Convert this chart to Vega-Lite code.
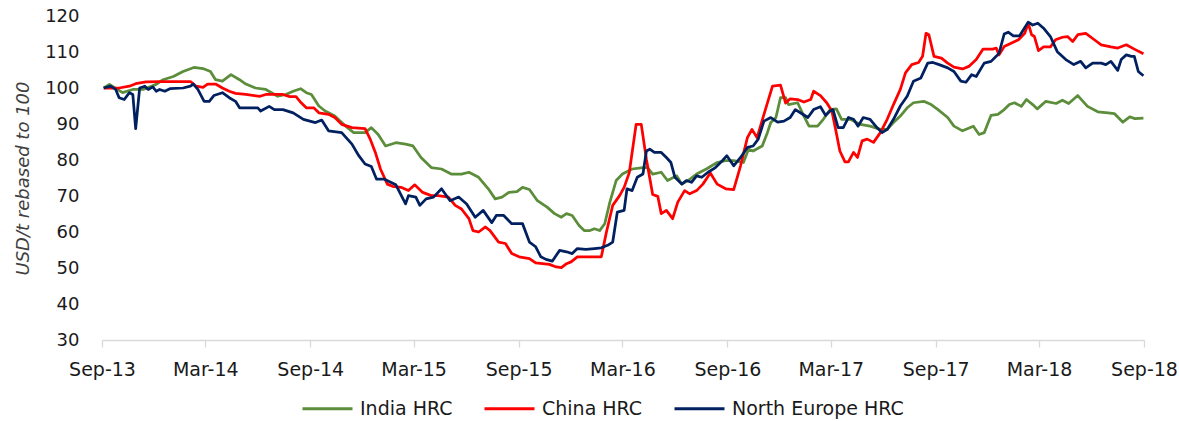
{
  "$schema": "https://vega.github.io/schema/vega-lite/v6.json",
  "width": 1042,
  "height": 324,
  "autosize": {"type": "none"},
  "padding": {"left": 102, "top": 16, "right": 35, "bottom": 81},
  "background": "white",
  "config": {"view": {"stroke": null}, "font": "DejaVu Sans"},
  "data": {"values": [
    {"date":"2013-09-04","series":"India HRC","value":100},
    {"date":"2013-09-14","series":"India HRC","value":101},
    {"date":"2013-10-07","series":"India HRC","value":98.7},
    {"date":"2013-10-25","series":"India HRC","value":99.6},
    {"date":"2013-11-12","series":"India HRC","value":99.6},
    {"date":"2013-12-05","series":"India HRC","value":101},
    {"date":"2013-12-17","series":"India HRC","value":102.3},
    {"date":"2014-01-04","series":"India HRC","value":103.2},
    {"date":"2014-01-21","series":"India HRC","value":104.6},
    {"date":"2014-02-09","series":"India HRC","value":105.7},
    {"date":"2014-02-25","series":"India HRC","value":105.4},
    {"date":"2014-03-10","series":"India HRC","value":104.6},
    {"date":"2014-03-19","series":"India HRC","value":102.3},
    {"date":"2014-03-31","series":"India HRC","value":101.9},
    {"date":"2014-04-15","series":"India HRC","value":103.7},
    {"date":"2014-04-30","series":"India HRC","value":102.3},
    {"date":"2014-05-11","series":"India HRC","value":101.1},
    {"date":"2014-05-28","series":"India HRC","value":100.0},
    {"date":"2014-06-15","series":"India HRC","value":99.6},
    {"date":"2014-07-06","series":"India HRC","value":97.7},
    {"date":"2014-07-20","series":"India HRC","value":98.2},
    {"date":"2014-08-02","series":"India HRC","value":99.1},
    {"date":"2014-08-15","series":"India HRC","value":99.8},
    {"date":"2014-08-25","series":"India HRC","value":98.7},
    {"date":"2014-09-03","series":"India HRC","value":98.2},
    {"date":"2014-09-16","series":"India HRC","value":95.0},
    {"date":"2014-09-27","series":"India HRC","value":93.6},
    {"date":"2014-10-14","series":"India HRC","value":92.2},
    {"date":"2014-11-02","series":"India HRC","value":89.4},
    {"date":"2014-11-16","series":"India HRC","value":87.6},
    {"date":"2014-12-06","series":"India HRC","value":87.6},
    {"date":"2014-12-17","series":"India HRC","value":89.0},
    {"date":"2014-12-29","series":"India HRC","value":87.1},
    {"date":"2015-01-11","series":"India HRC","value":83.9},
    {"date":"2015-01-29","series":"India HRC","value":84.8},
    {"date":"2015-02-15","series":"India HRC","value":84.4},
    {"date":"2015-02-28","series":"India HRC","value":83.9},
    {"date":"2015-03-14","series":"India HRC","value":80.7},
    {"date":"2015-04-01","series":"India HRC","value":77.9},
    {"date":"2015-04-19","series":"India HRC","value":77.5},
    {"date":"2015-05-06","series":"India HRC","value":76.1},
    {"date":"2015-05-24","series":"India HRC","value":76.1},
    {"date":"2015-06-06","series":"India HRC","value":76.6},
    {"date":"2015-06-23","series":"India HRC","value":75.2},
    {"date":"2015-07-10","series":"India HRC","value":72.0},
    {"date":"2015-07-22","series":"India HRC","value":69.2},
    {"date":"2015-08-03","series":"India HRC","value":69.7},
    {"date":"2015-08-15","series":"India HRC","value":71.0},
    {"date":"2015-08-29","series":"India HRC","value":71.2},
    {"date":"2015-09-08","series":"India HRC","value":72.4},
    {"date":"2015-09-20","series":"India HRC","value":71.8},
    {"date":"2015-10-04","series":"India HRC","value":68.7},
    {"date":"2015-10-21","series":"India HRC","value":66.9},
    {"date":"2015-11-03","series":"India HRC","value":65.1},
    {"date":"2015-11-15","series":"India HRC","value":64.1},
    {"date":"2015-11-24","series":"India HRC","value":65.1},
    {"date":"2015-12-04","series":"India HRC","value":64.6},
    {"date":"2015-12-16","series":"India HRC","value":61.8},
    {"date":"2015-12-25","series":"India HRC","value":60.4},
    {"date":"2016-01-04","series":"India HRC","value":60.4},
    {"date":"2016-01-12","series":"India HRC","value":60.9},
    {"date":"2016-01-21","series":"India HRC","value":60.4},
    {"date":"2016-01-30","series":"India HRC","value":62.3},
    {"date":"2016-02-08","series":"India HRC","value":68.3},
    {"date":"2016-02-19","series":"India HRC","value":74.3},
    {"date":"2016-03-01","series":"India HRC","value":76.1},
    {"date":"2016-03-18","series":"India HRC","value":77.5},
    {"date":"2016-04-06","series":"India HRC","value":77.9},
    {"date":"2016-04-14","series":"India HRC","value":77.9},
    {"date":"2016-04-23","series":"India HRC","value":76.1},
    {"date":"2016-05-08","series":"India HRC","value":76.6},
    {"date":"2016-05-19","series":"India HRC","value":74.3},
    {"date":"2016-06-04","series":"India HRC","value":75.6},
    {"date":"2016-06-13","series":"India HRC","value":73.3},
    {"date":"2016-06-24","series":"India HRC","value":74.3},
    {"date":"2016-07-09","series":"India HRC","value":76.1},
    {"date":"2016-07-26","series":"India HRC","value":77.5},
    {"date":"2016-08-14","series":"India HRC","value":79.3},
    {"date":"2016-08-29","series":"India HRC","value":79.8},
    {"date":"2016-09-12","series":"India HRC","value":79.8},
    {"date":"2016-09-29","series":"India HRC","value":79.3},
    {"date":"2016-10-08","series":"India HRC","value":83.0},
    {"date":"2016-10-16","series":"India HRC","value":82.5},
    {"date":"2016-11-01","series":"India HRC","value":83.9},
    {"date":"2016-11-10","series":"India HRC","value":87.6},
    {"date":"2016-11-16","series":"India HRC","value":90.4},
    {"date":"2016-11-25","series":"India HRC","value":91.8},
    {"date":"2016-12-03","series":"India HRC","value":97.3},
    {"date":"2016-12-12","series":"India HRC","value":97.3},
    {"date":"2016-12-17","series":"India HRC","value":95.4},
    {"date":"2017-01-02","series":"India HRC","value":95.9},
    {"date":"2017-01-13","series":"India HRC","value":92.2},
    {"date":"2017-01-22","series":"India HRC","value":89.4},
    {"date":"2017-02-06","series":"India HRC","value":89.4},
    {"date":"2017-02-16","series":"India HRC","value":91.3},
    {"date":"2017-02-28","series":"India HRC","value":94.0},
    {"date":"2017-03-11","series":"India HRC","value":94.2},
    {"date":"2017-03-20","series":"India HRC","value":91.3},
    {"date":"2017-04-04","series":"India HRC","value":91.3},
    {"date":"2017-04-22","series":"India HRC","value":89.9},
    {"date":"2017-05-09","series":"India HRC","value":89.4},
    {"date":"2017-05-27","series":"India HRC","value":88.5},
    {"date":"2017-06-08","series":"India HRC","value":88.5},
    {"date":"2017-06-19","series":"India HRC","value":90.4},
    {"date":"2017-07-01","series":"India HRC","value":92.2},
    {"date":"2017-07-13","series":"India HRC","value":94.5},
    {"date":"2017-07-24","series":"India HRC","value":95.9},
    {"date":"2017-08-11","series":"India HRC","value":96.3},
    {"date":"2017-08-24","series":"India HRC","value":95.4},
    {"date":"2017-09-05","series":"India HRC","value":94.0},
    {"date":"2017-09-22","series":"India HRC","value":91.8},
    {"date":"2017-10-03","series":"India HRC","value":89.4},
    {"date":"2017-10-18","series":"India HRC","value":88.1},
    {"date":"2017-11-06","series":"India HRC","value":89.4},
    {"date":"2017-11-16","series":"India HRC","value":87.1},
    {"date":"2017-11-25","series":"India HRC","value":87.6},
    {"date":"2017-12-07","series":"India HRC","value":92.4},
    {"date":"2017-12-19","series":"India HRC","value":92.7},
    {"date":"2017-12-30","series":"India HRC","value":94.0},
    {"date":"2018-01-08","series":"India HRC","value":95.4},
    {"date":"2018-01-17","series":"India HRC","value":95.9},
    {"date":"2018-01-29","series":"India HRC","value":94.9},
    {"date":"2018-02-07","series":"India HRC","value":96.8},
    {"date":"2018-02-18","series":"India HRC","value":95.4},
    {"date":"2018-02-26","series":"India HRC","value":94.2},
    {"date":"2018-03-13","series":"India HRC","value":96.3},
    {"date":"2018-03-31","series":"India HRC","value":95.7},
    {"date":"2018-04-11","series":"India HRC","value":96.6},
    {"date":"2018-04-22","series":"India HRC","value":95.7},
    {"date":"2018-05-08","series":"India HRC","value":97.9},
    {"date":"2018-05-25","series":"India HRC","value":94.9},
    {"date":"2018-06-12","series":"India HRC","value":93.4},
    {"date":"2018-06-30","series":"India HRC","value":93.1},
    {"date":"2018-07-11","series":"India HRC","value":92.9},
    {"date":"2018-07-26","series":"India HRC","value":90.5},
    {"date":"2018-08-07","series":"India HRC","value":92.0},
    {"date":"2018-08-16","series":"India HRC","value":91.5},
    {"date":"2018-08-31","series":"India HRC","value":91.6},

    {"date":"2013-09-04","series":"China HRC","value":100},
    {"date":"2013-10-01","series":"China HRC","value":100.0},
    {"date":"2013-10-19","series":"China HRC","value":100.5},
    {"date":"2013-10-30","series":"China HRC","value":101.2},
    {"date":"2013-11-17","series":"China HRC","value":101.7},
    {"date":"2013-12-11","series":"China HRC","value":101.8},
    {"date":"2014-02-03","series":"China HRC","value":101.8},
    {"date":"2014-02-13","series":"China HRC","value":100.5},
    {"date":"2014-02-25","series":"China HRC","value":100.2},
    {"date":"2014-03-05","series":"China HRC","value":101.1},
    {"date":"2014-03-19","series":"China HRC","value":101.1},
    {"date":"2014-03-31","series":"China HRC","value":100.0},
    {"date":"2014-04-12","series":"China HRC","value":99.1},
    {"date":"2014-04-23","series":"China HRC","value":98.5},
    {"date":"2014-05-11","series":"China HRC","value":98.2},
    {"date":"2014-06-05","series":"China HRC","value":97.7},
    {"date":"2014-06-15","series":"China HRC","value":98.2},
    {"date":"2014-07-15","series":"China HRC","value":98.2},
    {"date":"2014-07-27","series":"China HRC","value":97.6},
    {"date":"2014-08-07","series":"China HRC","value":97.6},
    {"date":"2014-08-16","series":"China HRC","value":95.9},
    {"date":"2014-08-25","series":"China HRC","value":94.5},
    {"date":"2014-09-07","series":"China HRC","value":94.5},
    {"date":"2014-09-16","series":"China HRC","value":93.1},
    {"date":"2014-10-03","series":"China HRC","value":92.7},
    {"date":"2014-10-14","series":"China HRC","value":91.8},
    {"date":"2014-10-26","series":"China HRC","value":89.9},
    {"date":"2014-11-13","series":"China HRC","value":89.0},
    {"date":"2014-12-06","series":"China HRC","value":88.7},
    {"date":"2014-12-15","series":"China HRC","value":85.8},
    {"date":"2014-12-24","series":"China HRC","value":82.1},
    {"date":"2015-01-02","series":"China HRC","value":77.5},
    {"date":"2015-01-14","series":"China HRC","value":73.3},
    {"date":"2015-01-23","series":"China HRC","value":72.7},
    {"date":"2015-02-07","series":"China HRC","value":72.4},
    {"date":"2015-02-20","series":"China HRC","value":71.5},
    {"date":"2015-03-03","series":"China HRC","value":73.1},
    {"date":"2015-03-17","series":"China HRC","value":71.0},
    {"date":"2015-04-01","series":"China HRC","value":70.1},
    {"date":"2015-04-13","series":"China HRC","value":70.1},
    {"date":"2015-05-01","series":"China HRC","value":69.7},
    {"date":"2015-05-13","series":"China HRC","value":67.4},
    {"date":"2015-05-24","series":"China HRC","value":66.4},
    {"date":"2015-06-06","series":"China HRC","value":63.7},
    {"date":"2015-06-13","series":"China HRC","value":60.4},
    {"date":"2015-06-23","series":"China HRC","value":60.0},
    {"date":"2015-07-05","series":"China HRC","value":61.4},
    {"date":"2015-07-13","series":"China HRC","value":60.4},
    {"date":"2015-07-28","series":"China HRC","value":57.2},
    {"date":"2015-08-09","series":"China HRC","value":56.8},
    {"date":"2015-08-20","series":"China HRC","value":54.0},
    {"date":"2015-09-02","series":"China HRC","value":53.1},
    {"date":"2015-09-20","series":"China HRC","value":52.6},
    {"date":"2015-10-01","series":"China HRC","value":51.4},
    {"date":"2015-10-25","series":"China HRC","value":51.0},
    {"date":"2015-11-06","series":"China HRC","value":50.3},
    {"date":"2015-11-15","series":"China HRC","value":50.1},
    {"date":"2015-11-24","series":"China HRC","value":51.2},
    {"date":"2015-12-02","series":"China HRC","value":51.7},
    {"date":"2015-12-13","series":"China HRC","value":53.1},
    {"date":"2015-12-28","series":"China HRC","value":53.1},
    {"date":"2016-01-24","series":"China HRC","value":53.1},
    {"date":"2016-02-02","series":"China HRC","value":60.0},
    {"date":"2016-02-13","series":"China HRC","value":67.4},
    {"date":"2016-02-25","series":"China HRC","value":70.1},
    {"date":"2016-03-04","series":"China HRC","value":72.4},
    {"date":"2016-03-13","series":"China HRC","value":76.5},
    {"date":"2016-03-18","series":"China HRC","value":82.1},
    {"date":"2016-03-25","series":"China HRC","value":89.9},
    {"date":"2016-04-03","series":"China HRC","value":89.9},
    {"date":"2016-04-12","series":"China HRC","value":80.2},
    {"date":"2016-04-23","series":"China HRC","value":70.4},
    {"date":"2016-05-02","series":"China HRC","value":69.9},
    {"date":"2016-05-08","series":"China HRC","value":65.1},
    {"date":"2016-05-17","series":"China HRC","value":66.0},
    {"date":"2016-05-28","series":"China HRC","value":63.7},
    {"date":"2016-06-06","series":"China HRC","value":68.3},
    {"date":"2016-06-18","series":"China HRC","value":71.5},
    {"date":"2016-06-27","series":"China HRC","value":70.6},
    {"date":"2016-07-09","series":"China HRC","value":71.5},
    {"date":"2016-07-20","series":"China HRC","value":73.3},
    {"date":"2016-08-02","series":"China HRC","value":76.4},
    {"date":"2016-08-14","series":"China HRC","value":73.3},
    {"date":"2016-08-29","series":"China HRC","value":72.0},
    {"date":"2016-09-12","series":"China HRC","value":71.8},
    {"date":"2016-09-24","series":"China HRC","value":78.4},
    {"date":"2016-10-06","series":"China HRC","value":86.2},
    {"date":"2016-10-14","series":"China HRC","value":88.5},
    {"date":"2016-10-23","series":"China HRC","value":86.2},
    {"date":"2016-11-04","series":"China HRC","value":92.7},
    {"date":"2016-11-19","series":"China HRC","value":100.5},
    {"date":"2016-12-03","series":"China HRC","value":100.8},
    {"date":"2016-12-12","series":"China HRC","value":95.8},
    {"date":"2016-12-20","series":"China HRC","value":97.0},
    {"date":"2017-01-02","series":"China HRC","value":96.8},
    {"date":"2017-01-13","series":"China HRC","value":96.1},
    {"date":"2017-01-25","series":"China HRC","value":96.8},
    {"date":"2017-01-30","series":"China HRC","value":99.1},
    {"date":"2017-02-11","series":"China HRC","value":97.9},
    {"date":"2017-02-22","series":"China HRC","value":95.9},
    {"date":"2017-03-03","series":"China HRC","value":93.6},
    {"date":"2017-03-09","series":"China HRC","value":89.0},
    {"date":"2017-03-17","series":"China HRC","value":82.5},
    {"date":"2017-03-26","series":"China HRC","value":79.5},
    {"date":"2017-04-01","series":"China HRC","value":79.5},
    {"date":"2017-04-10","series":"China HRC","value":82.1},
    {"date":"2017-04-17","series":"China HRC","value":80.7},
    {"date":"2017-04-25","series":"China HRC","value":85.3},
    {"date":"2017-05-04","series":"China HRC","value":85.8},
    {"date":"2017-05-15","series":"China HRC","value":84.9},
    {"date":"2017-05-27","series":"China HRC","value":87.6},
    {"date":"2017-06-08","series":"China HRC","value":91.3},
    {"date":"2017-06-19","series":"China HRC","value":95.4},
    {"date":"2017-07-01","series":"China HRC","value":99.6},
    {"date":"2017-07-10","series":"China HRC","value":104.2},
    {"date":"2017-07-21","series":"China HRC","value":106.5},
    {"date":"2017-08-02","series":"China HRC","value":107.1},
    {"date":"2017-08-09","series":"China HRC","value":108.8},
    {"date":"2017-08-15","series":"China HRC","value":115.2},
    {"date":"2017-08-20","series":"China HRC","value":114.8},
    {"date":"2017-08-29","series":"China HRC","value":108.8},
    {"date":"2017-09-11","series":"China HRC","value":108.3},
    {"date":"2017-09-22","series":"China HRC","value":106.9},
    {"date":"2017-10-03","series":"China HRC","value":105.8},
    {"date":"2017-10-18","series":"China HRC","value":105.3},
    {"date":"2017-10-29","series":"China HRC","value":106.0},
    {"date":"2017-11-11","series":"China HRC","value":107.9},
    {"date":"2017-11-23","series":"China HRC","value":110.8},
    {"date":"2017-12-10","series":"China HRC","value":110.8},
    {"date":"2017-12-16","series":"China HRC","value":111.1},
    {"date":"2017-12-21","series":"China HRC","value":109.2},
    {"date":"2017-12-30","series":"China HRC","value":111.5},
    {"date":"2018-01-24","series":"China HRC","value":113.4},
    {"date":"2018-02-04","series":"China HRC","value":115.2},
    {"date":"2018-02-10","series":"China HRC","value":118.0},
    {"date":"2018-02-16","series":"China HRC","value":114.8},
    {"date":"2018-02-21","series":"China HRC","value":114.3},
    {"date":"2018-02-28","series":"China HRC","value":110.4},
    {"date":"2018-03-09","series":"China HRC","value":111.4},
    {"date":"2018-03-21","series":"China HRC","value":111.4},
    {"date":"2018-03-30","series":"China HRC","value":113.4},
    {"date":"2018-04-11","series":"China HRC","value":114.1},
    {"date":"2018-04-20","series":"China HRC","value":114.3},
    {"date":"2018-04-29","series":"China HRC","value":112.9},
    {"date":"2018-05-08","series":"China HRC","value":114.8},
    {"date":"2018-05-22","series":"China HRC","value":115.2},
    {"date":"2018-06-06","series":"China HRC","value":113.4},
    {"date":"2018-06-18","series":"China HRC","value":112.0},
    {"date":"2018-07-05","series":"China HRC","value":111.4},
    {"date":"2018-07-17","series":"China HRC","value":111.1},
    {"date":"2018-08-01","series":"China HRC","value":112.0},
    {"date":"2018-08-15","series":"China HRC","value":110.8},
    {"date":"2018-08-31","series":"China HRC","value":109.5},

    {"date":"2013-09-04","series":"North Europe HRC","value":100},
    {"date":"2013-09-16","series":"North Europe HRC","value":100.5},
    {"date":"2013-09-25","series":"North Europe HRC","value":99.6},
    {"date":"2013-10-01","series":"North Europe HRC","value":97.3},
    {"date":"2013-10-10","series":"North Europe HRC","value":96.8},
    {"date":"2013-10-19","series":"North Europe HRC","value":98.7},
    {"date":"2013-10-25","series":"North Europe HRC","value":98.2},
    {"date":"2013-10-30","series":"North Europe HRC","value":88.7},
    {"date":"2013-11-06","series":"North Europe HRC","value":100.0},
    {"date":"2013-11-15","series":"North Europe HRC","value":100.5},
    {"date":"2013-11-21","series":"North Europe HRC","value":99.6},
    {"date":"2013-11-29","series":"North Europe HRC","value":100.3},
    {"date":"2013-12-05","series":"North Europe HRC","value":99.1},
    {"date":"2013-12-11","series":"North Europe HRC","value":99.6},
    {"date":"2013-12-20","series":"North Europe HRC","value":99.1},
    {"date":"2013-12-29","series":"North Europe HRC","value":99.8},
    {"date":"2014-01-21","series":"North Europe HRC","value":100.0},
    {"date":"2014-02-03","series":"North Europe HRC","value":100.5},
    {"date":"2014-02-08","series":"North Europe HRC","value":101.1},
    {"date":"2014-02-16","series":"North Europe HRC","value":99.6},
    {"date":"2014-02-27","series":"North Europe HRC","value":96.3},
    {"date":"2014-03-08","series":"North Europe HRC","value":96.3},
    {"date":"2014-03-16","series":"North Europe HRC","value":97.9},
    {"date":"2014-03-31","series":"North Europe HRC","value":98.7},
    {"date":"2014-04-12","series":"North Europe HRC","value":97.3},
    {"date":"2014-04-23","series":"North Europe HRC","value":96.3},
    {"date":"2014-04-30","series":"North Europe HRC","value":94.5},
    {"date":"2014-05-23","series":"North Europe HRC","value":94.5},
    {"date":"2014-06-01","series":"North Europe HRC","value":94.5},
    {"date":"2014-06-06","series":"North Europe HRC","value":93.6},
    {"date":"2014-06-21","series":"North Europe HRC","value":94.9},
    {"date":"2014-06-30","series":"North Europe HRC","value":94.0},
    {"date":"2014-07-15","series":"North Europe HRC","value":94.0},
    {"date":"2014-08-02","series":"North Europe HRC","value":93.1},
    {"date":"2014-08-11","series":"North Europe HRC","value":92.2},
    {"date":"2014-08-20","series":"North Europe HRC","value":91.3},
    {"date":"2014-09-10","series":"North Europe HRC","value":90.4},
    {"date":"2014-09-21","series":"North Europe HRC","value":91.1},
    {"date":"2014-10-03","series":"North Europe HRC","value":88.1},
    {"date":"2014-10-26","series":"North Europe HRC","value":87.6},
    {"date":"2014-11-13","series":"North Europe HRC","value":84.4},
    {"date":"2014-11-25","series":"North Europe HRC","value":81.2},
    {"date":"2014-12-06","series":"North Europe HRC","value":78.9},
    {"date":"2014-12-17","series":"North Europe HRC","value":78.2},
    {"date":"2014-12-26","series":"North Europe HRC","value":74.7},
    {"date":"2015-01-08","series":"North Europe HRC","value":74.7},
    {"date":"2015-01-29","series":"North Europe HRC","value":73.1},
    {"date":"2015-02-15","series":"North Europe HRC","value":67.8},
    {"date":"2015-02-20","series":"North Europe HRC","value":70.1},
    {"date":"2015-03-05","series":"North Europe HRC","value":69.7},
    {"date":"2015-03-12","series":"North Europe HRC","value":67.4},
    {"date":"2015-03-23","series":"North Europe HRC","value":69.2},
    {"date":"2015-04-05","series":"North Europe HRC","value":69.7},
    {"date":"2015-04-19","series":"North Europe HRC","value":72.0},
    {"date":"2015-05-04","series":"North Europe HRC","value":68.7},
    {"date":"2015-05-19","series":"North Europe HRC","value":69.7},
    {"date":"2015-06-02","series":"North Europe HRC","value":67.8},
    {"date":"2015-06-17","series":"North Europe HRC","value":64.1},
    {"date":"2015-07-01","series":"North Europe HRC","value":66.0},
    {"date":"2015-07-16","series":"North Europe HRC","value":62.6},
    {"date":"2015-07-24","series":"North Europe HRC","value":64.6},
    {"date":"2015-08-06","series":"North Europe HRC","value":64.6},
    {"date":"2015-08-20","series":"North Europe HRC","value":62.3},
    {"date":"2015-09-08","series":"North Europe HRC","value":62.3},
    {"date":"2015-09-20","series":"North Europe HRC","value":57.2},
    {"date":"2015-10-01","series":"North Europe HRC","value":55.9},
    {"date":"2015-10-10","series":"North Europe HRC","value":53.1},
    {"date":"2015-10-19","series":"North Europe HRC","value":52.4},
    {"date":"2015-10-30","series":"North Europe HRC","value":51.9},
    {"date":"2015-11-12","series":"North Europe HRC","value":54.9},
    {"date":"2015-11-24","series":"North Europe HRC","value":54.5},
    {"date":"2015-12-04","series":"North Europe HRC","value":54.0},
    {"date":"2015-12-13","series":"North Europe HRC","value":55.4},
    {"date":"2015-12-28","series":"North Europe HRC","value":55.2},
    {"date":"2016-01-12","series":"North Europe HRC","value":55.4},
    {"date":"2016-01-24","series":"North Europe HRC","value":55.6},
    {"date":"2016-02-04","series":"North Europe HRC","value":56.3},
    {"date":"2016-02-13","series":"North Europe HRC","value":57.2},
    {"date":"2016-02-21","series":"North Europe HRC","value":65.5},
    {"date":"2016-03-04","series":"North Europe HRC","value":66.0},
    {"date":"2016-03-09","series":"North Europe HRC","value":72.0},
    {"date":"2016-03-18","series":"North Europe HRC","value":71.5},
    {"date":"2016-03-27","series":"North Europe HRC","value":75.2},
    {"date":"2016-04-06","series":"North Europe HRC","value":76.1},
    {"date":"2016-04-12","series":"North Europe HRC","value":82.5},
    {"date":"2016-04-18","series":"North Europe HRC","value":83.0},
    {"date":"2016-04-26","series":"North Europe HRC","value":82.1},
    {"date":"2016-05-08","series":"North Europe HRC","value":82.1},
    {"date":"2016-05-17","series":"North Europe HRC","value":80.7},
    {"date":"2016-05-25","series":"North Europe HRC","value":79.3},
    {"date":"2016-06-01","series":"North Europe HRC","value":75.2},
    {"date":"2016-06-13","series":"North Europe HRC","value":73.3},
    {"date":"2016-06-21","series":"North Europe HRC","value":74.3},
    {"date":"2016-06-30","series":"North Europe HRC","value":73.8},
    {"date":"2016-07-09","series":"North Europe HRC","value":75.6},
    {"date":"2016-07-18","series":"North Europe HRC","value":75.2},
    {"date":"2016-07-29","series":"North Europe HRC","value":76.6},
    {"date":"2016-08-11","series":"North Europe HRC","value":77.9},
    {"date":"2016-08-23","series":"North Europe HRC","value":79.8},
    {"date":"2016-08-31","series":"North Europe HRC","value":81.2},
    {"date":"2016-09-12","series":"North Europe HRC","value":78.4},
    {"date":"2016-09-24","series":"North Europe HRC","value":80.7},
    {"date":"2016-10-06","series":"North Europe HRC","value":83.5},
    {"date":"2016-10-16","series":"North Europe HRC","value":83.9},
    {"date":"2016-10-25","series":"North Europe HRC","value":85.8},
    {"date":"2016-11-04","series":"North Europe HRC","value":90.8},
    {"date":"2016-11-16","series":"North Europe HRC","value":91.8},
    {"date":"2016-11-28","series":"North Europe HRC","value":90.5},
    {"date":"2016-12-09","series":"North Europe HRC","value":90.8},
    {"date":"2016-12-20","series":"North Europe HRC","value":91.8},
    {"date":"2016-12-29","series":"North Europe HRC","value":94.0},
    {"date":"2017-01-11","series":"North Europe HRC","value":92.7},
    {"date":"2017-01-20","series":"North Europe HRC","value":91.8},
    {"date":"2017-01-30","series":"North Europe HRC","value":94.0},
    {"date":"2017-02-11","series":"North Europe HRC","value":94.8},
    {"date":"2017-02-20","series":"North Europe HRC","value":92.4},
    {"date":"2017-02-28","series":"North Europe HRC","value":93.6},
    {"date":"2017-03-05","series":"North Europe HRC","value":94.0},
    {"date":"2017-03-14","series":"North Europe HRC","value":89.0},
    {"date":"2017-03-23","series":"North Europe HRC","value":89.0},
    {"date":"2017-04-01","series":"North Europe HRC","value":91.8},
    {"date":"2017-04-10","series":"North Europe HRC","value":91.3},
    {"date":"2017-04-18","series":"North Europe HRC","value":89.4},
    {"date":"2017-04-27","series":"North Europe HRC","value":91.8},
    {"date":"2017-05-09","series":"North Europe HRC","value":91.3},
    {"date":"2017-05-21","series":"North Europe HRC","value":89.0},
    {"date":"2017-05-30","series":"North Europe HRC","value":87.6},
    {"date":"2017-06-08","series":"North Europe HRC","value":88.5},
    {"date":"2017-06-19","series":"North Europe HRC","value":91.3},
    {"date":"2017-07-01","series":"North Europe HRC","value":95.0},
    {"date":"2017-07-13","series":"North Europe HRC","value":97.7},
    {"date":"2017-07-24","series":"North Europe HRC","value":101.9},
    {"date":"2017-08-06","series":"North Europe HRC","value":102.8},
    {"date":"2017-08-18","series":"North Europe HRC","value":106.9},
    {"date":"2017-08-27","series":"North Europe HRC","value":107.1},
    {"date":"2017-09-07","series":"North Europe HRC","value":106.5},
    {"date":"2017-09-22","series":"North Europe HRC","value":105.6},
    {"date":"2017-10-03","series":"North Europe HRC","value":104.6},
    {"date":"2017-10-15","series":"North Europe HRC","value":101.9},
    {"date":"2017-10-24","series":"North Europe HRC","value":101.6},
    {"date":"2017-11-03","series":"North Europe HRC","value":103.7},
    {"date":"2017-11-11","series":"North Europe HRC","value":103.2},
    {"date":"2017-11-25","series":"North Europe HRC","value":106.9},
    {"date":"2017-12-07","series":"North Europe HRC","value":107.4},
    {"date":"2017-12-16","series":"North Europe HRC","value":108.8},
    {"date":"2017-12-21","series":"North Europe HRC","value":109.7},
    {"date":"2017-12-30","series":"North Europe HRC","value":115.0},
    {"date":"2018-01-06","series":"North Europe HRC","value":115.5},
    {"date":"2018-01-15","series":"North Europe HRC","value":114.5},
    {"date":"2018-01-26","series":"North Europe HRC","value":114.5},
    {"date":"2018-02-10","series":"North Europe HRC","value":118.3},
    {"date":"2018-02-18","series":"North Europe HRC","value":117.5},
    {"date":"2018-02-27","series":"North Europe HRC","value":118.0},
    {"date":"2018-03-09","series":"North Europe HRC","value":116.6},
    {"date":"2018-03-21","series":"North Europe HRC","value":114.3},
    {"date":"2018-04-02","series":"North Europe HRC","value":110.1},
    {"date":"2018-04-17","series":"North Europe HRC","value":107.9},
    {"date":"2018-05-01","series":"North Europe HRC","value":106.5},
    {"date":"2018-05-13","series":"North Europe HRC","value":107.4},
    {"date":"2018-05-22","series":"North Europe HRC","value":105.6},
    {"date":"2018-06-03","series":"North Europe HRC","value":106.9},
    {"date":"2018-06-18","series":"North Europe HRC","value":106.9},
    {"date":"2018-06-26","series":"North Europe HRC","value":106.5},
    {"date":"2018-07-05","series":"North Europe HRC","value":107.4},
    {"date":"2018-07-17","series":"North Europe HRC","value":104.9},
    {"date":"2018-07-23","series":"North Europe HRC","value":107.9},
    {"date":"2018-08-01","series":"North Europe HRC","value":109.2},
    {"date":"2018-08-10","series":"North Europe HRC","value":108.8},
    {"date":"2018-08-15","series":"North Europe HRC","value":108.8},
    {"date":"2018-08-22","series":"North Europe HRC","value":104.6},
    {"date":"2018-08-31","series":"North Europe HRC","value":103.4}
  ]},
  "mark": {"type": "line", "strokeWidth": 2.75, "strokeJoin": "round"},
  "encoding": {
    "x": {
      "field": "date",
      "type": "temporal",
      "scale": {
        "type": "utc",
        "domain": [
          {"year": 2013, "month": "sep", "date": 1, "utc": true},
          {"year": 2018, "month": "sep", "date": 1, "utc": true}
        ]
      },
      "axis": {
        "title": null,
        "grid": false,
        "values": [
          {"year": 2013, "month": "sep", "date": 1, "utc": true},
          {"year": 2014, "month": "mar", "date": 1, "utc": true},
          {"year": 2014, "month": "sep", "date": 1, "utc": true},
          {"year": 2015, "month": "mar", "date": 1, "utc": true},
          {"year": 2015, "month": "sep", "date": 1, "utc": true},
          {"year": 2016, "month": "mar", "date": 1, "utc": true},
          {"year": 2016, "month": "sep", "date": 1, "utc": true},
          {"year": 2017, "month": "mar", "date": 1, "utc": true},
          {"year": 2017, "month": "sep", "date": 1, "utc": true},
          {"year": 2018, "month": "mar", "date": 1, "utc": true},
          {"year": 2018, "month": "sep", "date": 1, "utc": true}
        ],
        "format": "%b-%y",
        "domainColor": "#D9D9D9",
        "domainWidth": 1.3,
        "tickColor": "#D9D9D9",
        "tickWidth": 1.3,
        "tickSize": 7,
        "labelFont": "DejaVu Sans",
        "labelFontSize": 19,
        "labelColor": "#1a1a1a",
        "labelPadding": 13,
        "labelFlush": false,
        "labelOverlap": false
      }
    },
    "y": {
      "field": "value",
      "type": "quantitative",
      "scale": {"domain": [30, 120], "nice": false, "zero": false},
      "axis": {
        "values": [30, 40, 50, 60, 70, 80, 90, 100, 110, 120],
        "title": "USD/t rebased to 100",
        "titleFont": "DejaVu Sans",
        "titleFontStyle": "italic",
        "titleFontWeight": "normal",
        "titleFontSize": 18,
        "titleColor": "#404040",
        "titlePadding": 12,
        "domain": false,
        "ticks": false,
        "grid": false,
        "labelFont": "DejaVu Sans",
        "labelFontSize": 18,
        "labelColor": "#1a1a1a",
        "labelPadding": 23
      }
    },
    "color": {
      "field": "series",
      "type": "nominal",
      "scale": {
        "domain": ["India HRC", "China HRC", "North Europe HRC"],
        "range": ["#5B8D3A", "#FF0000", "#002060"]
      },
      "legend": {
        "title": null,
        "orient": "none",
        "legendX": 199,
        "legendY": 366,
        "direction": "horizontal",
        "symbolType": "stroke",
        "symbolSize": 2500,
        "symbolStrokeWidth": 3,
        "labelFont": "DejaVu Sans",
        "labelFontSize": 19,
        "labelColor": "#1a1a1a",
        "labelLimit": 0,
        "labelOffset": 6,
        "columnPadding": 25
      }
    }
  }
}
